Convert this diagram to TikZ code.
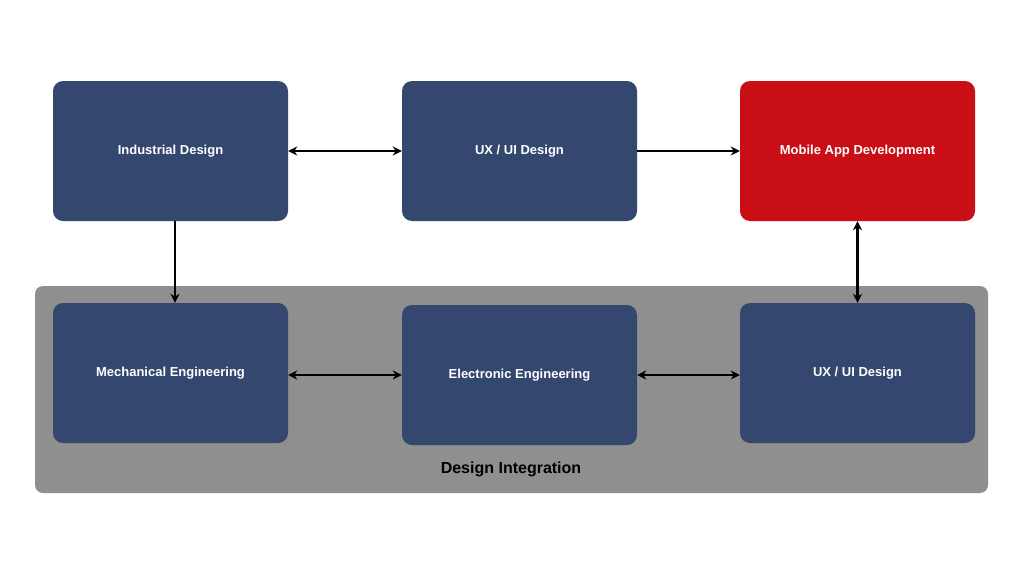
\documentclass[tikz,border=0pt]{standalone}
\usepackage{fontspec}
\setmainfont{Liberation Sans}
\usetikzlibrary{arrows.meta}
\definecolor{boxblue}{HTML}{34476F}
\definecolor{boxred}{HTML}{C90E15}
\definecolor{panel}{HTML}{8F8F8F}
\begin{document}
\begin{tikzpicture}[x=1pt,y=-1pt,
  box/.style={draw=none,fill=boxblue,rounded corners=10pt,minimum width=235pt,minimum height=140pt,text=white,font=\fontsize{13}{15}\selectfont\bfseries},
  arr/.style={line width=2.2pt,-{Stealth[length=9pt,width=9pt]}},
  darr/.style={line width=2.2pt,{Stealth[length=9pt,width=9pt]}-{Stealth[length=9pt,width=9pt]}}]
\useasboundingbox (0,0) rectangle (1024,576);
\fill[white] (0,0) rectangle (1024,576);
\node[fill=panel,rounded corners=8pt,minimum width=953pt,minimum height=207pt,inner sep=0pt] (panel) at (511.5,389.5) {};
\node[font=\fontsize{16}{18}\selectfont\bfseries] (di) at (511,469) {Design Integration};
\node[box] (ind) at (170.5,151) {Industrial Design};
\node[box] (uxt) at (519.5,151) {UX / UI Design};
\node[box,fill=boxred] (mob) at (857.5,151) {Mobile App Development};
\node[box] (mech) at (170.5,373) {Mechanical Engineering};
\node[box] (elec) at (519.5,375) {Electronic Engineering};
\node[box] (uxb) at (857.5,373) {UX / UI Design};
\draw[darr] (ind.east|-0,151) -- (uxt.west|-0,151);
\draw[arr] (uxt.east|-0,151) -- (mob.west|-0,151);
\draw[arr] (ind.south-|175,0) -- (mech.north-|175,0);
\draw[darr] (mob.south) -- (uxb.north);
\draw[darr] (mech.east|-0,375) -- (elec.west|-0,375);
\draw[darr] (elec.east|-0,375) -- (uxb.west|-0,375);
\end{tikzpicture}
\end{document}
